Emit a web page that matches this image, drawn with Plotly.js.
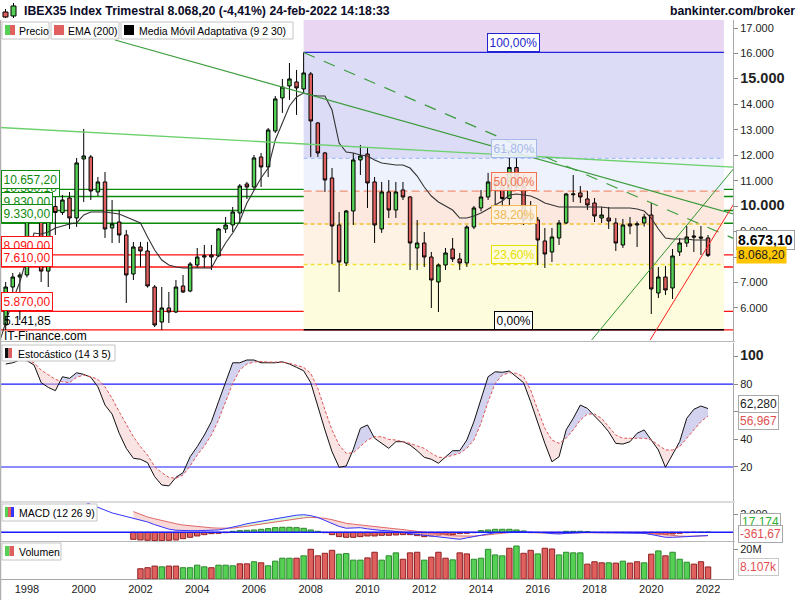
<!DOCTYPE html>
<html>
<head>
<meta charset="utf-8">
<script src="https://cdn.plot.ly/plotly-3.0.1.min.js"></script>
<style>html,body{margin:0;padding:0;background:#fff;}#chart{width:800px;height:600px;}</style>
</head>
<body>
<div id="chart"></div>
<script>
// ================= DATA =================
const quarters = [];
for (let y = 1997; y <= 2022; y++) for (let q = 1; q <= 4; q++) if (y < 2022 || q === 1) quarters.push(y + 'Q' + q);

const open = [4560,5332,6825,7218,7297,9900,10300,7450,9990,9750,
 10323,9537,11856,11934,10559,10952,9145,9380,8869,7336,
 8397,8240,6825,5450,6000,5843,6865,6668,7690,8000,
 8083,8044,9105,9262,9733,10873,10755,11934,11541,12956,
 14253,14725,14882,14607,15195,13270,12092,11109,9262,7769,
 9812,11817,12052,10952,9105,10559,9851,10638,10362,8358,
 8554,8004,7022,7690,8319,7926,7769,9184,9930,10362,
 10923,10826,10300,11521,10770,9460,9458,8633,8201,8751,
 9341,10450,10520,10284,10127,9537,9537,9341,8476,9302,
 9262,9341,9655,6590,7218,6786,8201,8554,8830,8790,
 8751];
const high = [5400,7022,7376,7400,10100,10700,10900,10100,10500,10441,
 10559,11895,13035,12013,11148,11345,10244,9851,9065,8594,
 8594,8594,6900,6825,6629,7100,7297,7808,8358,8476,
 8476,9144,9576,9969,10873,10952,12013,12092,13074,14332,
 15000,15627,15353,16040,15274,13310,12130,11502,9773,9851,
 12092,12405,12288,11148,10952,11030,10952,10952,10400,9458,
 8987,8201,7750,8358,8751,8162,9250,10009,10637,11306,
 11250,11000,11895,11885,11250,10200,9576,9144,9144,9458,
 10520,11227,10795,10600,10323,9969,9969,9537,9500,9576,
 9400,9700,10127,7611,7650,8319,8751,9223,9065,9223,
 8869];
const low = [4500,5135,6629,5528,7200,9500,7022,6825,8870,9655,
 9105,9184,10166,10244,10402,8751,8554,8554,6197,7100,
 7611,6800,5253,5135,5410,5800,6590,6620,7572,7572,
 7493,8000,8948,8987,9341,10284,10637,10755,11148,12877,
 13664,14175,13585,14450,11935,11935,10559,7729,6629,7650,
 9262,11227,9930,8554,8950,9537,9537,10244,7493,7493,
 7611,6000,5843,7493,7808,7493,7611,9100,9800,10244,
 10000,9950,10000,10600,9262,9300,7690,7572,7808,8476,
 9300,10166,10127,9851,9380,9341,9105,8240,8360,8900,
 8397,9200,5764,6393,6511,6354,8044,8397,8201,8083,
 8004];
const close = [5330,6825,7218,7297,9900,10300,7450,9990,9750,10244,
 9537,11699,11974,10598,10952,9105,9302,8869,7297,8397,
 8240,6865,5332,6000,5843,6825,6629,7729,8004,8050,
 8004,9105,9262,9773,10795,10755,11895,11541,12995,14214,
 14685,15000,14646,15235,13349,12092,11030,9223,7808,9812,
 11817,11974,10913,9262,10559,9851,10559,10362,8554,8554,
 8004,7100,7690,8162,7926,7769,9184,9930,10362,10952,
 10826,10300,11520,10770,9460,9480,8672,8122,8790,9341,
 10480,10480,10362,10048,9616,9655,9419,8554,9262,9223,
 9302,9576,6747,7218,6708,8044,8554,8790,8790,8751,
 8068.2];
// Media Móvil Adaptativa (9 2 30)
const ama = [4546,5411,6314,7022,8004,8947,8907,8986,9143,9222,
 9300,9340,9654,9772,9772,9772,9733,9693,9575,9458,
 9340,8790,8279,7886,7690,7611,7572,7572,7572,7572,
 7572,8082,8554,8947,9418,10125,10636,11108,11501,12601,
 13269,13937,14290,14447,14369,14329,14329,13779,12483,12129,
 12090,12011,11972,11815,11697,11658,11618,11618,11500,11186,
 10754,10400,10165,10008,9850,9536,9536,9615,9733,9890,
 10047,10204,10440,10479,10440,10400,10283,10125,10047,9968,
 9968,9968,9968,9968,9968,9968,9929,9929,9929,9929,
 9890,9811,9536,9104,8750,8711,8711,8711,8672,8672,
 8673.1];
// Estocástico (14 3 5)
const stochK = [null,94.5,95.4,97.4,96.9,93.8,81,77.6,75.2,85.3,84.1,
 88.2,87,84.9,78,64.8,58.3,44.4,33.5,26.3,25.6,
 23.1,13,7,6.3,12.5,15.9,27.4,34.7,43.1,52.8,
 67.2,81.7,95.4,95.4,97.4,97.4,95.4,95.4,95.4,96.1,
 94.5,92.1,89.6,81,63.6,46.8,31.1,19.8,20.7,32.8,
 48,50.4,40.8,37.1,33.5,38.3,38.3,35.9,31.8,27,
 25.6,22.7,27,31.8,31.8,39.5,52.8,69.7,85.3,88.9,
 88.5,89.4,85.3,81,67.2,51.6,37.1,23.8,27.4,46.8,
 55.2,64.8,62.4,56.9,51.6,45.5,37.1,36.6,38.3,44.4,
 46.8,39.5,32.3,19.8,28.7,38.3,55.2,61.7,64.1,62.28];
const stochD = [null,null,null,null,97,95.5,90.1,86.5,83.4,81.7,81,
 84.9,86.5,85.3,83.4,78,69.7,60,50.4,41.9,34.7,
 28.7,20.2,15.9,12.5,11.8,14.2,20.7,28.7,35.2,43.1,
 54,67.2,80.5,90.1,94.5,95.9,96.4,95.9,95.9,95.9,
 95,93.8,92.1,87.8,76.9,61.2,46.8,35.9,29.9,30.3,
 35.2,39.5,41.9,41.9,40,39.5,38.3,37.1,35.2,33.5,
 29.9,27,27,28.7,29.9,33.5,39.5,51.6,67.2,80.5,
 86.5,88.2,87.8,85.3,75.7,61.2,48,39.5,37.1,40.8,
 46.8,54,58.3,58.3,55.2,49.1,43.1,40.8,40.8,40.8,
 40.8,39.5,35.9,32.3,32.3,34.7,40.8,46.8,52.8,56.967];
// MACD (12 26 9)
const macdLine = [null,null,null,null,null,null,null,null,null,null,null,null,
 3400,3100,2750,2450,2150,1950,1750,1480,1350,1150,
 850,600,350,230,180,180,180,180,180,260,
 400,555,750,950,1080,1200,1380,1500,1650,1800,
 1900,1950,1850,1650,1300,950,650,450,480,510,
 380,255,200,170,100,0,-150,-250,-300,-400,
 -480,-600,-700,-777,-620,-450,-330,-180,-50,0,
 30,60,50,20,0,-60,-150,-185,-120,-60,
 0,-10,-37,-40,-70,-100,-111,-111,-111,-111,
 -250,-420,-555,-560,-520,-481,-430,-390,-361.67];
const macdSignal = [null,null,null,null,null,null,null,null,null,null,
 null,null,null,null,null,null,null,null,null,
 2300,2000,1700,1500,1300,1100,950,810,720,640,
 560,500,460,445,460,560,680,800,920,1050,
 1180,1300,1420,1520,1600,1665,1640,1554,1400,1200,
 1000,900,800,700,620,540,450,380,300,200,
 100,0,-100,-200,-300,-380,-407,-420,-420,-360,
 -270,-170,-90,-30,0,0,0,-30,-60,-100,
 -111,-100,-80,-50,-37,-37,-37,-37,-40,-50,
 -60,-60,-80,-120,-185,-290,-380,-420,-440,-420,
 -400,-378.8];
const macdHist = [null,null,null,null,null,null,null,null,null,null,
 null,null,null,null,null,null,null,null,null,
 -777,-851,-888,-925,-925,-888,-851,-703,-555,-407,
 -259,-148,-111,-40,111,185,222,259,333,407,
 518,555,555,518,444,259,111,-40,-259,-481,
 -555,-555,-481,-407,-407,-333,-333,-296,-259,-259,
 -370,-481,-407,-333,-259,-259,-148,-111,-40,185,
 259,333,333,333,259,148,-37,-37,-37,-37,
 -37,111,111,111,74,-20,-20,-20,-20,-20,
 -20,-20,-111,-185,-259,-259,-185,-111,-40,-10,
 10,17.174];
// Volumen (millones)
const volume = [null,null,null,null,null,null,null,null,null,null,
 null,null,null,null,null,null,null,null,null,null,
 6.9,7.6,8.7,8.2,8.7,8.7,7.6,7.6,9.3,8.2,
 7.6,9.3,9.3,8.9,10.2,10.2,11.6,10.9,8.9,12.0,
 14.0,14.0,14.0,15.6,20.0,15.6,17.3,19.3,16.7,17.1,
 12.7,12.7,14.2,18.0,12.7,15.6,17.6,13.3,17.6,18.0,
 12.7,14.7,18.0,14.0,12.9,17.6,16.9,13.3,14.0,20.0,
 16.2,15.6,20.7,22.2,17.3,19.3,16.9,20.7,20.2,16.2,
 18.0,17.6,17.6,10.0,11.6,10.9,10.9,10.7,12.0,10.7,
 11.6,10.9,16.7,18.9,15.6,18.0,13.3,11.3,10.0,11.6,
 8.107];
const volUp = [null,null,null,null,null,null,null,null,null,null,
 null,null,null,null,null,null,null,null,null,null,
 0,0,0,1,0,0,1,1,1,1,
 0,1,1,1,0,0,1,0,1,1,
 1,1,0,1,0,0,0,0,1,1,
 1,1,0,0,1,1,1,0,0,0,
 1,0,0,0,1,0,0,1,1,1,
 1,1,0,1,0,0,1,0,0,1,
 1,1,1,0,0,0,1,0,1,0,
 0,1,0,1,0,1,1,1,0,0,
 0];
// Niveles horizontales (soportes / resistencias)
const srLevels = [10380.10, 10657.20, 9830.00, 9330.00, 8090.00, 7610.00, 5870.00];
const srKinds  = ['g','g','g','g','r','r','r'];
const baseLevel = 5141.85;
// Fibonacci
const fibHigh = 16040, fibLow = 5141.85;
const fibRatios = [1, 0.618, 0.5, 0.382, 0.236, 0];
const fibStartQuarter = '2007Q4';
const fibEndX = 2022.56, fibLabelX = 2015.16;
// Líneas de tendencia [x0, y0, x1, y1]
const trendLines = [
  [2001.10, 16530, 2023.0, 9662],
  [1997.00, 13095, 2023.0, 11526],
  [2007.75, 16040, 2023.0, 8683],
  [2017.90, 4743, 2023.0, 11608],
  [2019.96, 4743, 2023.0, 10259]
];
const yearTicks = [1998,2000,2002,2004,2006,2008,2010,2012,2014,2016,2018,2020,2022];
const priceTicks = [6000,7000,8000,9000,10000,11000,12000,13000,14000,15000,16000,17000];
const boldPriceTicks = [10000, 15000];
const hiddenPriceTicks = [8000];
const stochTicks = [20,40,60,80,100];

// ================= HELPERS =================
const xs = quarters.map(s => Number(s.slice(0,4)) + (Number(s.slice(5)) - 1) / 4);
function fmtES(v, dec) {
  const s = Math.abs(v).toFixed(dec);
  let [i, d] = s.split('.');
  i = i.replace(/\B(?=(\d{3})+(?!\d))/g, '.');
  return (v < 0 ? '-' : '') + i + (d !== undefined ? ',' + d : '');
}
const PW = 733, PH = 559;
const px = x => x / PW;
const py = y => (579 - y) / PH;

function splitFill(x, a, b) {
  const X = [], A = [], B = [];
  for (let i = 0; i < x.length; i++) {
    if (a[i] == null || b[i] == null) continue;
    if (X.length) {
      const k = X.length - 1;
      const d0 = A[k] - B[k], d1 = a[i] - b[i];
      if (d0 * d1 < 0) {
        const t = d0 / (d0 - d1);
        const yc = A[k] + t * (a[i] - A[k]);
        X.push(X[k] + t * (x[i] - X[k])); A.push(yc); B.push(yc);
      }
    }
    X.push(x[i]); A.push(a[i]); B.push(b[i]);
  }
  return { X, B, hi: A.map((v, k) => Math.max(v, B[k])), lo: A.map((v, k) => Math.min(v, B[k])) };
}
function fillTraces(x, a, b, yaxis, upColor, dnColor) {
  const f = splitFill(x, a, b);
  const base = { x: f.X, y: f.B, yaxis, mode: 'lines', line: { width: 0 }, hoverinfo: 'skip', showlegend: false, type: 'scatter' };
  return [
    base,
    { x: f.X, y: f.hi, yaxis, mode: 'lines', line: { width: 0 }, fill: 'tonexty', fillcolor: upColor, hoverinfo: 'skip', showlegend: false, type: 'scatter' },
    Object.assign({}, base),
    { x: f.X, y: f.lo, yaxis, mode: 'lines', line: { width: 0 }, fill: 'tonexty', fillcolor: dnColor, hoverinfo: 'skip', showlegend: false, type: 'scatter' }
  ];
}

const GREEN = '#55d055', RED = '#e06060';
const FONT = 'Liberation Sans, Arial, sans-serif';

// ================= TRACES =================
const traces = [];
traces.push({
  type: 'candlestick', x: xs, open, high, low, close, xaxis: 'x', yaxis: 'y',
  increasing: { line: { color: '#000', width: 1 }, fillcolor: GREEN },
  decreasing: { line: { color: '#000', width: 1 }, fillcolor: RED },
  whiskerwidth: 0, hoverinfo: 'skip', showlegend: false
});
traces.push({ type: 'scatter', x: xs, y: ama, yaxis: 'y', mode: 'lines', line: { color: '#333', width: 1.1 }, hoverinfo: 'skip', showlegend: false });

// stochastic
fillTraces(xs, stochK, stochD, 'y2', 'rgba(175,175,225,0.55)', 'rgba(245,200,200,0.5)').forEach(t => traces.push(t));
traces.push({ type: 'scatter', x: xs, y: stochK, yaxis: 'y2', mode: 'lines', line: { color: '#111', width: 1 }, hoverinfo: 'skip', showlegend: false });
traces.push({ type: 'scatter', x: xs, y: stochD, yaxis: 'y2', mode: 'lines', line: { color: '#e05555', width: 1, dash: '3px,2px' }, hoverinfo: 'skip', showlegend: false });

// MACD
fillTraces(xs, macdLine, macdSignal, 'y3', 'rgba(190,240,190,0.6)', 'rgba(245,190,190,0.6)').forEach(t => traces.push(t));
traces.push({ type: 'bar', x: xs, y: macdHist, yaxis: 'y3', width: 0.19,
  marker: { color: macdHist.map(v => v == null ? GREEN : (v >= 0 ? GREEN : RED)), line: { color: macdHist.map(v => v != null && v >= 0 ? '#2a8a2a' : '#902020'), width: 1 } },
  hoverinfo: 'skip', showlegend: false });
traces.push({ type: 'scatter', x: xs, y: macdSignal, yaxis: 'y3', mode: 'lines', line: { color: '#e06a6a', width: 1 }, hoverinfo: 'skip', showlegend: false });
traces.push({ type: 'scatter', x: xs, y: macdLine, yaxis: 'y3', mode: 'lines', line: { color: '#3535ff', width: 1 }, hoverinfo: 'skip', showlegend: false });

// Volume
traces.push({ type: 'bar', x: xs, y: volume.map(v => v == null ? null : v * 1e6), yaxis: 'y4', width: 0.19,
  marker: { color: volUp.map(u => u ? GREEN : RED), line: { color: volUp.map(u => u ? '#2a8a2a' : '#902020'), width: 1 } },
  hoverinfo: 'skip', showlegend: false });

// ================= SHAPES =================
const shapes = [];
const fibStartX = xs[quarters.indexOf(fibStartQuarter)];
const fibLevels = fibRatios.map(r => fibLow + r * (fibHigh - fibLow));
const zoneColors = ['#e9d6f2', '#dcdcf6', '#eef2fd', '#fde8df', '#fdf2e3', '#fdfcdc'];
const zoneBounds = [20000].concat(fibLevels);
for (let i = 0; i < zoneColors.length; i++) {
  shapes.push({ type: 'rect', xref: 'x', yref: 'y', x0: fibStartX, x1: fibEndX, y0: zoneBounds[i + 1], y1: zoneBounds[i], fillcolor: zoneColors[i], line: { width: 0 }, layer: 'below' });
}
const fibLineStyles = [
  { color: '#2323e0', dash: 'solid', width: 1.2 },
  { color: '#a9c0f5', dash: '4px,3px', width: 1.2 },
  { color: '#f29070', dash: '8px,4px', width: 1.2 },
  { color: '#f0c030', dash: '4px,3px', width: 1.5 },
  { color: '#f2e030', dash: '4px,3px', width: 1.5 },
  { color: '#000000', dash: 'solid', width: 1.5 }
];
srLevels.forEach((v, i) => {
  shapes.push({ type: 'line', xref: 'paper', yref: 'y', x0: 0, x1: 1, y0: v, y1: v, line: { color: srKinds[i] === 'g' ? '#0c8a0c' : '#ff1010', width: 1.3 }, layer: 'below' });
});
shapes.push({ type: 'line', xref: 'paper', yref: 'y', x0: 0, x1: 1, y0: baseLevel, y1: baseLevel, line: { color: '#ff1010', width: 1.3 }, layer: 'below' });
fibLevels.forEach((v, i) => {
  shapes.push({ type: 'line', xref: 'x', yref: 'y', x0: fibStartX, x1: fibEndX, y0: v, y1: v, line: fibLineStyles[i], layer: 'below' });
});
const trendStyles = [
  { color: '#3c9c3c', width: 1.2 },
  { color: '#6cd06c', width: 1.3 },
  { color: '#3c9c3c', width: 1.2, dash: '12px,10px' },
  { color: '#2e962e', width: 1 },
  { color: '#ff2020', width: 1 }
];
trendLines.forEach((t, i) => {
  shapes.push({ type: 'line', xref: 'x', yref: 'y', x0: t[0], y0: t[1], x1: t[2], y1: t[3], line: trendStyles[i], layer: 'above' });
});
[20, 80].forEach(v => shapes.push({ type: 'line', xref: 'paper', yref: 'y2', x0: 0, x1: 1, y0: v, y1: v, line: { color: '#1a1aff', width: 1.2 }, layer: 'below' }));
shapes.push({ type: 'line', xref: 'paper', yref: 'y3', x0: 0, x1: 1, y0: 0, y1: 0, line: { color: '#1a1aff', width: 1.5 }, layer: 'above' });
[341.5, 502, 541.5].forEach(y => shapes.push({ type: 'line', xref: 'paper', yref: 'paper', x0: 0, x1: px(735), y0: py(y), y1: py(y), line: { color: '#b8b8b8', width: 1 } }));
shapes.push({ type: 'line', xref: 'paper', yref: 'paper', x0: px(0.5), x1: px(0.5), y0: py(600), y1: py(20), line: { color: '#b0b0b0', width: 1.5 } });

// header icon
shapes.push({ type: 'line', xref: 'paper', yref: 'paper', x0: px(5.5), x1: px(5.5), y0: py(18), y1: py(9), line: { color: '#000', width: 1 } });
shapes.push({ type: 'rect', xref: 'paper', yref: 'paper', x0: px(3), x1: px(8), y0: py(17), y1: py(12), fillcolor: RED, line: { color: '#000', width: 1 } });
shapes.push({ type: 'line', xref: 'paper', yref: 'paper', x0: px(13.5), x1: px(13.5), y0: py(18), y1: py(3), line: { color: '#000', width: 1 } });
shapes.push({ type: 'rect', xref: 'paper', yref: 'paper', x0: px(11), x1: px(16), y0: py(16), y1: py(6), fillcolor: GREEN, line: { color: '#000', width: 1 } });

// legend boxes
function box(x0, x1, y0, y1) { shapes.push({ type: 'rect', xref: 'paper', yref: 'paper', x0: px(x0), x1: px(x1), y0: py(y1), y1: py(y0), fillcolor: '#fff', line: { color: '#c4c4c4', width: 1 } }); }
function sw(x0, x1, y0, y1, c) { shapes.push({ type: 'rect', xref: 'paper', yref: 'paper', x0: px(x0), x1: px(x1), y0: py(y1), y1: py(y0), fillcolor: c, line: { width: 0 } }); }
box(2, 49, 22, 39); sw(5, 10, 25, 35, GREEN); sw(10, 15, 25, 35, RED);
box(51, 119, 22, 39); sw(54, 64, 25, 35, RED);
box(121, 293, 22, 39); sw(124, 134, 25, 35, '#000');
box(2, 115, 345, 361); sw(5, 8.5, 348, 358, '#111'); sw(8.5, 12, 348, 358, RED);
box(2, 97, 504, 521); sw(5, 8, 507, 517, GREEN); sw(8, 11, 507, 517, RED); sw(11, 14, 507, 517, '#3535ff');
box(2, 61, 543, 560); sw(5, 9.5, 546, 556, GREEN); sw(9.5, 14, 546, 556, RED);

// ================= ANNOTATIONS =================
const ann = [];
function txt(x, y, text, opts) {
  ann.push(Object.assign({ xref: 'paper', yref: 'paper', x: px(x), y: py(y), text, showarrow: false, xanchor: 'left', yanchor: 'middle', font: { family: FONT, size: 11, color: '#000' } }, opts || {}));
}
txt(22, 11, '<b>IBEX35 Index Trimestral ' + fmtES(close[close.length - 1], 2) + ' (-4,41%) 24-feb-2022 14:18:33</b>', { font: { family: FONT, size: 12.3, color: '#0a0a28' } });
txt(797, 11, '<b>bankinter.com/broker</b>', { xanchor: 'right', font: { family: FONT, size: 12.3, color: '#0a0a28' } });
const legFont = { family: FONT, size: 10.5, color: '#000' };
txt(17, 31, 'Precio', { font: legFont });
txt(66, 31, 'EMA (200)', { font: legFont });
txt(137, 31, 'Media Móvil Adaptativa (9 2 30)', { font: legFont });
txt(16, 353.5, 'Estocástico (14 3 5)', { font: legFont });
txt(17, 512.5, 'MACD (12 26 9)', { font: legFont });
txt(17, 551.5, 'Volumen', { font: legFont });

// S/R labels
srLevels.forEach((v, i) => {
  const c = srKinds[i] === 'g' ? '#108a10' : '#ff1010';
  ann.push({ xref: 'paper', yref: 'y', x: px(1), y: v, xanchor: 'left', yanchor: 'bottom', text: fmtES(v, 2), showarrow: false,
    font: { family: FONT, size: 12, color: c }, bgcolor: '#fff', bordercolor: c, borderwidth: 1, borderpad: 1.5 });
});
ann.push({ xref: 'paper', yref: 'y', x: px(2), y: baseLevel, xanchor: 'left', yanchor: 'bottom', text: fmtES(baseLevel, 2), showarrow: false, font: { family: FONT, size: 12, color: '#000' } });
txt(2, 336, 'IT-Finance.com', { font: { family: FONT, size: 12, color: '#000' } });

// Fibonacci labels
const fibLabelColors = ['#2323d0', '#a8b8ea', '#f07450', '#f0b850', '#e8e000', '#000'];
const fibLabelBg = ['#fff', 'rgba(240,244,253,0.85)', 'rgba(253,236,228,0.9)', 'rgba(253,243,228,0.9)', 'rgba(253,252,220,0.9)', '#fff'];
fibLevels.forEach((v, i) => {
  ann.push({ xref: 'x', yref: 'y', x: fibLabelX, y: v, xanchor: 'center', yanchor: 'bottom', text: fmtES(fibRatios[i] * 100, 2) + '%', showarrow: false,
    font: { family: FONT, size: 12, color: fibLabelColors[i] }, bgcolor: fibLabelBg[i], bordercolor: fibLabelColors[i], borderwidth: 1, borderpad: 1.5 });
});

// right-side value labels
ann.push({ xref: 'paper', yref: 'y', x: px(736), y: ama[ama.length - 1], xanchor: 'left', yanchor: 'middle', text: '<b>' + fmtES(ama[ama.length - 1], 2) + '</b>', showarrow: false,
  font: { family: FONT, size: 14, color: '#000' }, bgcolor: '#fff', bordercolor: '#a0a0a0', borderwidth: 1, borderpad: 1 });
ann.push({ xref: 'paper', yref: 'y', x: px(736), y: close[close.length - 1], xanchor: 'left', yanchor: 'middle', text: fmtES(close[close.length - 1], 2), showarrow: false,
  font: { family: FONT, size: 12, color: '#222' }, bgcolor: '#ffc600', borderpad: 1 });
txt(738, 404, fmtES(stochK[stochK.length - 1], 3), { font: { family: FONT, size: 12, color: '#222' }, bgcolor: '#fff', bordercolor: '#a8a8a8', borderwidth: 1, borderpad: 1 });
txt(738, 421, fmtES(stochD[stochD.length - 1], 3), { font: { family: FONT, size: 12, color: '#e05050' }, bgcolor: '#fff', bordercolor: '#a8a8a8', borderwidth: 1, borderpad: 1 });
txt(740, 522, fmtES(macdHist[macdHist.length - 1] * 1000, 0), { font: { family: FONT, size: 12, color: '#30b030' }, bgcolor: '#fff', bordercolor: '#a8a8a8', borderwidth: 1, borderpad: 1 });
txt(738, 534, fmtES(macdLine[macdLine.length - 1], 2), { font: { family: FONT, size: 12, color: '#e05050' }, bgcolor: '#fff', bordercolor: '#a8a8a8', borderwidth: 1, borderpad: 1 });
txt(738, 567, fmtES(volume[volume.length - 1] * 1000, 0) + 'k', { font: { family: FONT, size: 12, color: '#e05050' }, bgcolor: '#fff', bordercolor: '#c8c8c8', borderwidth: 1, borderpad: 1 });

// ================= LAYOUT =================
const axisCommon = { side: 'right', anchor: 'x', showgrid: false, zeroline: false, showline: true, linecolor: '#a8a8a8', linewidth: 1,
  ticks: 'outside', ticklen: 4, tickcolor: '#888', tickfont: { family: FONT, size: 11, color: '#222' }, fixedrange: true, automargin: false };
const layout = {
  width: 800, height: 600,
  margin: { l: 0, r: 67, t: 20, b: 21, pad: 0 },
  paper_bgcolor: '#fff', plot_bgcolor: '#fff',
  separators: ',.',
  showlegend: false,
  bargap: 0.3,
  boxgap: 0.3,
  font: { family: FONT, size: 11, color: '#000' },
  xaxis: { domain: [0, 1], range: [1997.05, 2022.88], anchor: 'y4', showgrid: false, zeroline: false,
    tickmode: 'array', tickvals: yearTicks, ticktext: yearTicks.map(String), ticks: '', showline: true, linecolor: '#a8a8a8',
    tickfont: { family: FONT, size: 11, color: '#222' }, rangeslider: { visible: false }, fixedrange: true, automargin: false },
  yaxis: Object.assign({}, axisCommon, { domain: [py(341), 1], range: [4703, 17316], tickmode: 'array', tickvals: priceTicks,
    ticktext: priceTicks.map(v => hiddenPriceTicks.includes(v) ? '' : (boldPriceTicks.includes(v) ? '<span style="font-size:14.5px;font-weight:bold">' + fmtES(v, 0) + '</span>' : fmtES(v, 0))) }),
  yaxis2: Object.assign({}, axisCommon, { domain: [py(501), py(343)], range: [-4.6, 109.7], tickmode: 'array', tickvals: stochTicks,
    ticktext: stochTicks.map(v => v === 100 ? '<span style="font-size:14px;font-weight:bold">100</span>' : (v === 60 ? '' : String(v))) }),
  yaxis3: Object.assign({}, axisCommon, { domain: [py(541), py(503)], range: [-966, 3252], tickmode: 'array', tickvals: [2000], ticktext: ['2.000'] }),
  yaxis4: Object.assign({}, axisCommon, { domain: [0, py(542)], range: [0, 24.9e6], tickmode: 'array', tickvals: [20e6], ticktext: ['20M'] }),
  shapes, annotations: ann
};
Plotly.newPlot('chart', traces, layout, { displayModeBar: false, staticPlot: true });
</script>
</body>
</html>
